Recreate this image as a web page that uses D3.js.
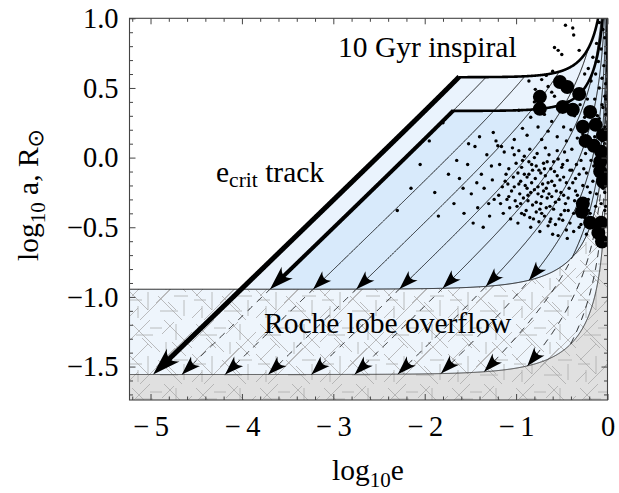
<!DOCTYPE html>
<html>
<head>
<meta charset="utf-8">
<script src="https://cdn.jsdelivr.net/npm/d3@7"></script>
<style>
  body { margin: 0; background: #fff; }
  text { font-family: "Liberation Serif", "Times New Roman", serif; fill: #000; }
</style>
</head>
<body>
<svg id="chart" width="619" height="493"></svg>
<script>
// axis ticks
var xTicks = [-5, -4, -3, -2, -1, 0];
var yTicks = [-1.5, -1.0, -0.5, 0.0, 0.5, 1.0];

// tracks: log a = c + slope*log e - log(1-e)
var trackSlope = 0.635;
var trackIntercepts = [1.40, 1.10, 0.80, 0.50, 0.20, -0.10, -0.40, -0.70, -1.00, -1.30];
var critIntercepts = [1.60, 1.40];      // outer / inner e_crit track
var inspiralLevels = [0.577, 0.335];    // 10 Gyr inspiral curves, log a at e=0
var rocheLevels = [-0.945, -1.557];     // Roche lobe overflow boundaries, log a at e=0

// observed systems, small dots [log e, log a]
var smallDots = [
  [-0.46,0.95],[-0.38,0.93],[-0.37,0.88],[-0.58,0.79],[-0.54,0.77],[-0.50,0.74],[-0.31,0.77],
  [-0.09,0.97],[-0.05,0.92],[-0.03,0.86],[-0.12,0.82],[-0.07,0.78],[-0.02,0.75],[-0.16,0.72],[-0.10,0.69],
  [-0.04,0.66],[-0.21,0.64],[-0.13,0.60],[-0.06,0.57],[-0.02,0.53],[-0.25,0.60],[-0.18,0.55],[-0.09,0.50],
  [-0.03,0.44],[-0.14,0.42],[-0.06,0.38],[-0.02,0.31],[-0.11,0.30],[-0.01,0.20],[-0.03,0.10],[-0.02,0.00],
  [-0.01,-0.12],[-0.03,-0.25],[-0.02,-0.35],
  [-1.18,-0.05],[-1.15,-0.21],[-1.13,0.04],[-1.17,-0.33],[-1.11,-0.12],[-1.19,-0.27],[-1.14,-0.40],[-1.12,-0.17],[-1.16,0.08],[-1.10,-0.30],
  [-1.08,-0.08],[-1.05,-0.24],[-1.02,0.02],[-1.07,-0.36],[-1.03,-0.14],[-1.09,-0.19],[-1.01,-0.31],[-1.06,-0.44],[-1.04,0.07],[-1.00,-0.04],[-1.08,-0.28],[-1.02,-0.21],
  [-0.98,-0.11],[-0.96,-0.26],[-0.93,-0.02],[-0.99,-0.35],[-0.95,-0.17],[-0.91,-0.41],[-0.97,0.05],[-0.92,-0.29],[-0.94,-0.07],[-0.90,-0.20],[-0.98,-0.47],[-0.95,-0.33],[-0.91,0.01],
  [-0.88,-0.14],[-0.86,-0.03],[-0.84,-0.25],[-0.89,-0.38],[-0.82,-0.09],[-0.87,-0.31],[-0.83,-0.18],[-0.85,0.06],[-0.81,-0.44],[-0.88,-0.22],[-0.84,-0.50],[-0.86,-0.12],[-0.82,-0.34],[-0.80,0.00],
  [-0.78,-0.06],[-0.76,-0.21],[-0.74,-0.37],[-0.79,-0.15],[-0.72,-0.28],[-0.77,0.03],[-0.73,-0.11],[-0.75,-0.46],[-0.71,-0.19],[-0.78,-0.32],[-0.74,-0.53],[-0.70,-0.04],[-0.76,-0.26],[-0.72,-0.40],
  [-0.68,-0.13],[-0.66,-0.29],[-0.64,0.02],[-0.69,-0.42],[-0.62,-0.08],[-0.67,-0.22],[-0.63,-0.35],[-0.65,-0.49],[-0.61,-0.17],[-0.68,0.07],[-0.64,-0.26],[-0.60,-0.55],[-0.66,-0.03],[-0.62,-0.44],
  [-0.58,-0.10],[-0.56,-0.24],[-0.54,-0.01],[-0.59,-0.37],[-0.52,-0.16],[-0.57,-0.48],[-0.53,-0.30],[-0.55,0.05],[-0.51,-0.41],[-0.58,-0.20],[-0.54,-0.56],[-0.50,-0.07],
  [-0.48,-0.14],[-0.46,-0.33],[-0.44,-0.02],[-0.49,-0.45],[-0.42,-0.22],[-0.47,0.04],[-0.43,-0.38],[-0.45,-0.52],[-0.41,-0.09],[-0.48,-0.27],[-0.44,-0.58],
  [-0.97,-0.19],[-0.94,-0.40],[-0.91,-0.12],[-0.87,-0.27],[-0.85,-0.43],[-0.83,-0.05],[-0.80,-0.23],[-0.78,-0.39],[-0.75,-0.09],[-0.73,-0.33],
  [-0.70,-0.24],[-0.69,-0.08],[-0.67,-0.36],[-0.65,-0.18],[-0.63,-0.46],[-0.61,-0.28],[-0.59,-0.03],[-0.57,-0.32],[-0.55,-0.13],[-0.53,-0.44],
  [-0.51,-0.25],[-0.49,-0.05],[-0.47,-0.38],[-0.45,-0.18],[-0.43,-0.29],[-0.41,-0.47],[-0.39,-0.09],[-0.37,-0.40],[-0.35,-0.15],[-0.33,-0.27],
  [-0.31,-0.50],[-0.29,-0.02],[-0.27,-0.20],[-0.25,-0.43],[-0.23,-0.11],[-0.21,-0.38],[-0.19,-0.25],[-0.17,-0.48],[-0.15,-0.06],[-0.13,-0.35],
  [-0.38,-0.18],[-0.36,-0.31],[-0.34,-0.05],[-0.39,0.06],[-0.32,-0.42],[-0.37,-0.53],[-0.33,0.14],[-0.35,-0.24],[-0.31,-0.12],[-0.30,0.22],
  [-0.28,-0.36],[-0.26,-0.08],[-0.24,0.03],[-0.29,-0.48],[-0.22,-0.21],[-0.27,0.17],[-0.23,-0.55],[-0.25,0.29],[-0.21,-0.30],[-0.20,0.10],
  [-0.18,-0.02],[-0.16,-0.17],[-0.14,0.15],[-0.19,-0.40],[-0.12,-0.26],[-0.17,0.33],[-0.13,-0.50],[-0.15,0.24],[-0.11,0.05],[-0.10,-0.12],
  [-0.09,0.28],[-0.07,-0.33],[-0.06,0.12],[-0.08,-0.45],[-0.05,0.36],[-0.04,-0.05],[-0.03,0.22],[-0.05,-0.22],[-0.02,0.42],[-0.03,-0.38],
  [-0.36,0.30],[-0.30,0.38],[-0.22,0.42],[-0.40,0.20],[-0.35,0.44],
  [-1.68,-0.33],[-1.62,-0.15],[-1.57,-0.40],[-1.53,-0.05],[-1.49,-0.26],[-1.45,0.08],[-1.42,-0.36],[-1.38,-0.12],[-1.35,-0.22],[-1.32,0.02],
  [-1.29,-0.42],[-1.26,-0.16],[-1.24,-0.30],[-1.22,0.12],[-1.58,-0.22],[-1.47,-0.47],[-1.36,-0.50],[-1.27,-0.06],[-1.40,0.15],[-1.30,-0.33],
  [-1.65,-0.02],[-1.52,0.10],[-1.43,-0.18],[-1.25,0.18],
  [-1.02,0.13],[-0.97,0.34],[-0.93,0.21],[-0.88,0.16],[-0.84,0.29],[-0.80,0.40],[-0.76,0.22],[-0.72,0.13],
  [-0.69,0.31],[-0.65,0.19],[-0.61,0.26],[-0.58,0.44],[-0.55,0.15],[-0.52,0.33],[-0.48,0.22],[-0.45,0.12],[-0.43,0.40],
  [-0.79,0.49],[-0.65,0.51],[-0.61,0.47],[-0.67,0.59],[-0.60,0.62],[-0.86,0.55],[-0.72,0.56],[-0.53,0.56],
  [-1.74,-0.12],[-1.89,-0.25],[-2.05,-0.05],[-1.95,0.12],[-2.30,-0.38],[-1.80,0.25],[-1.85,-0.42],[-2.15,-0.22],[-1.20,0.085]
];

// observed systems, large circles [log e, log a]
var bigDots = [
  [-0.52,0.543],[-0.44,0.507],[-0.31,0.457],[-0.74,0.436],[-0.74,0.350],[-0.49,0.364],[-0.38,0.343],[-0.19,0.328],
  [-0.27,0.221],[-0.13,0.235],[-0.05,0.163],[-0.24,0.120],[-0.15,0.085],[-0.07,0.042],[-0.08,-0.030],[-0.08,-0.100],
  [-0.05,-0.172],[-0.27,-0.330],[-0.28,-0.388],[-0.19,-0.467],[-0.07,-0.467],[-0.10,-0.539],[-0.06,-0.603]
];

var svg = d3.select("#chart");
var x = d3.scaleLinear().domain([-5.23, 0]).range([129.5, 607.5]);
var y = d3.scaleLinear().domain([-1.74, 1.0]).range([400, 18.3]);
var x0 = x.range()[0], x1 = x.range()[1], yTop = y.range()[1], yBot = y.range()[0];

function ecc(v) { return Math.pow(10, v); }
function inspiral(v, y0) { var e = ecc(v); return y0 - Math.log10(1 - e * e); }
function roche(v, y0) { return y0 - Math.log10(1 - ecc(v)); }
function track(v, c) { return c + trackSlope * v - Math.log10(1 - ecc(v)); }
function clampY(v) { return Math.max(-1.9, Math.min(1.2, v)); }

// sample positions, denser close to e = 1
var xs = d3.range(-5.23, -0.3, 0.004);
d3.range(0.302, 4.6, 0.004).forEach(function(t) { xs.push(Math.log10(1 - Math.pow(10, -t))); });

var defs = svg.append("defs");
defs.append("clipPath").attr("id", "plotclip").append("rect")
  .attr("x", x0).attr("y", yTop).attr("width", x1 - x0).attr("height", yBot - yTop);

// crossed-stroke texture for the Roche region
var pat = defs.append("pattern").attr("id", "hatch")
  .attr("patternUnits", "userSpaceOnUse").attr("width", 64).attr("height", 64);
var hatchPaths = ["M0,22L22,0", "M12,64L64,12", "M28,47L47,28", "M0,62L10,52", "M34,14L46,2", "M4,40L20,24",
  "M4,4L32,32", "M36,0L64,28", "M0,34L20,54", "M30,40L54,64", "M44,22L58,36", "M14,18L24,28", "M40,46L48,54",
  "M8,15H25", "M32,55H50", "M2,44H14", "M46,40H60", "M22,8H34",
  "M48,4V20", "M20,36V54", "M56,44V60", "M10,50V62", "M38,22V34"];
pat.selectAll("path").data(hatchPaths).enter().append("path")
  .attr("d", function(d) { return d; })
  .attr("stroke", "#a8a8a8").attr("stroke-width", 1).attr("stroke-opacity", 0.75).attr("fill", "none");

var plot = svg.append("g").attr("clip-path", "url(#plotclip)");

var area = d3.area()
  .x(function(d) { return x(d.x); })
  .y0(function(d) { return y(d.lo); })
  .y1(function(d) { return y(d.hi); });

function band(loFn, hiFn) {
  return xs.map(function(v) {
    var lo = clampY(loFn(v)), hi = clampY(hiFn(v));
    return {x: v, lo: lo, hi: Math.max(lo, hi)};
  });
}

// gray: below lower Roche boundary
plot.append("path").attr("fill", "#e0e0e0")
  .attr("d", area(band(function() { return -1.9; }, function(v) { return roche(v, rocheLevels[1]); })));
// Roche lobe overflow band
plot.append("path").attr("fill", "#eef5fc")
  .attr("d", area(band(function(v) { return roche(v, rocheLevels[1]); }, function(v) { return roche(v, rocheLevels[0]); })));
// texture over both
plot.append("path").attr("fill", "url(#hatch)")
  .attr("d", area(band(function() { return -1.9; }, function(v) { return roche(v, rocheLevels[0]); })));
// regions under the outer and inner e_crit / inspiral boundaries
var regionFill = ["#eaf3fd", "#d8eafb"];
critIntercepts.forEach(function(c, i) {
  plot.append("path").attr("fill", regionFill[i])
    .attr("d", area(band(function(v) { return roche(v, rocheLevels[0]); },
      function(v) { return Math.min(track(v, c), inspiral(v, inspiralLevels[i])); })));
});

var line = d3.line().x(function(d) { return x(d.x); }).y(function(d) { return y(d.y); })
  .defined(function(d) { return d.ok; });

// Roche boundary curves
rocheLevels.forEach(function(r, i) {
  plot.append("path").attr("fill", "none").attr("stroke", i ? "#333" : "#000").attr("stroke-width", 1)
    .attr("d", line(xs.map(function(v) { var yy = roche(v, r); return {x: v, y: yy, ok: yy < 1.2}; })));
});

function arrowHead(px, py, ang, L, Wd) {
  plot.append("path")
    .attr("d", "M0,0L" + (-L) + "," + (-Wd / 2) + "Q" + (-0.62 * L) + ",0 " + (-L) + "," + (Wd / 2) + "Z")
    .attr("transform", "translate(" + px + "," + py + ") rotate(" + ang + ")")
    .attr("fill", "#000");
}
function trackArrow(c, level, L, Wd) {
  var xa = (level - c) / trackSlope;   // where the track meets a Roche curve
  var xb = xa + 0.03;
  var ang = Math.atan2(y(track(xa, c)) - y(track(xb, c)), x(xa) - x(xb)) * 180 / Math.PI;
  arrowHead(x(xa), y(track(xa, c)), ang, L, Wd);
}

// thin evolutionary tracks
trackIntercepts.forEach(function(c) {
  var pts = xs.map(function(v) {
    var t = track(v, c);
    return {x: v, y: t, top: t <= inspiral(v, inspiralLevels[0]) && t < 1.2,
      up: t >= roche(v, rocheLevels[0]), low: t >= roche(v, rocheLevels[1])};
  });
  plot.append("path").attr("fill", "none").attr("stroke", "#000").attr("stroke-width", 0.9)
    .attr("d", line(pts.map(function(p) { return {x: p.x, y: p.y, ok: p.top && p.up}; })));
  plot.append("path").attr("fill", "none").attr("stroke", "#000").attr("stroke-width", 0.9)
    .attr("stroke-dasharray", "7,6")
    .attr("d", line(pts.map(function(p) { return {x: p.x, y: p.y, ok: p.top && !p.up && p.low}; })));
  rocheLevels.forEach(function(r, k) {
    var xa = (r - c) / trackSlope;
    var inner = c === critIntercepts[1] && k === 0;  // drawn with the thick track
    if (xa < -0.6 && !inner) trackArrow(c, r, 19, 13);
  });
});

// e_crit tracks (thick) and 10 Gyr inspiral curves
var critEnd = [rocheLevels[1], rocheLevels[0]];
var critWidth = [5, 4], headL = [28, 24], headW = [18, 16];
critIntercepts.forEach(function(c, i) {
  var xStart = (critEnd[i] - c) / trackSlope + 0.12;
  plot.append("path").attr("fill", "none").attr("stroke", "#000").attr("stroke-width", critWidth[i])
    .attr("d", line(xs.map(function(v) {
      var t = track(v, c);
      return {x: v, y: t, ok: v >= xStart && t <= inspiral(v, inspiralLevels[i]) + 0.004};
    })));
  plot.append("path").attr("fill", "none").attr("stroke", "#000").attr("stroke-width", 2.6)
    .attr("d", line(xs.map(function(v) {
      var s = inspiral(v, inspiralLevels[i]);
      return {x: v, y: s, ok: s <= track(v, c) && s < 1.2};
    })));
  trackArrow(c, critEnd[i], headL[i], headW[i]);
});

// observed systems
plot.append("g").selectAll("circle").data(smallDots).enter().append("circle")
  .attr("cx", function(d) { return x(d[0]); })
  .attr("cy", function(d) { return y(d[1]); })
  .attr("r", 1.7).attr("fill", "#000");
plot.append("g").selectAll("circle").data(bigDots).enter().append("circle")
  .attr("cx", function(d) { return x(d[0]); })
  .attr("cy", function(d) { return y(d[1]); })
  .attr("r", 7).attr("fill", "#000");

// frame and ticks
svg.append("rect").attr("x", x0).attr("y", yTop).attr("width", x1 - x0).attr("height", yBot - yTop)
  .attr("fill", "none").attr("stroke", "#444").attr("stroke-width", 1.1);

function fmtMinus(s) { return s.replace("-", "\u2212\u2009"); }
var xMinor = d3.range(-5.2, 0.01, 0.2).filter(function(v) { return Math.abs(v - Math.round(v)) > 0.01; });
var yMinor = d3.range(-1.7, 1.01, 0.1).filter(function(v) { return Math.abs(v * 2 - Math.round(v * 2)) > 0.01; });

function styleAxis(g) {
  g.select(".domain").remove();
  g.selectAll(".tick line").attr("stroke", "#444");
  g.selectAll("text").style("font-size", "28.5px").style("font-family", "Liberation Serif, serif");
}

svg.append("g").attr("transform", "translate(0," + yBot + ")")
  .call(d3.axisBottom(x).tickValues(xTicks).tickSize(-6).tickPadding(16)
    .tickFormat(function(d) { return fmtMinus(String(d)); }))
  .call(styleAxis);
svg.append("g").attr("transform", "translate(0," + yBot + ")")
  .call(d3.axisBottom(x).tickValues(xMinor).tickSize(-3.5).tickFormat(""))
  .call(styleAxis);
svg.append("g").attr("transform", "translate(0," + yTop + ")")
  .call(d3.axisTop(x).tickValues(xTicks).tickSize(-6).tickFormat(""))
  .call(styleAxis);
svg.append("g").attr("transform", "translate(0," + yTop + ")")
  .call(d3.axisTop(x).tickValues(xMinor).tickSize(-3.5).tickFormat(""))
  .call(styleAxis);
svg.append("g").attr("transform", "translate(" + x0 + ",0)")
  .call(d3.axisLeft(y).tickValues(yTicks).tickSize(-6).tickPadding(11)
    .tickFormat(function(d) { return fmtMinus(d3.format(".1f")(d)); }))
  .call(styleAxis);
svg.append("g").attr("transform", "translate(" + x0 + ",0)")
  .call(d3.axisLeft(y).tickValues(yMinor).tickSize(-3.5).tickFormat(""))
  .call(styleAxis);
svg.append("g").attr("transform", "translate(" + x1 + ",0)")
  .call(d3.axisRight(y).tickValues(yTicks).tickSize(-6).tickFormat(""))
  .call(styleAxis);
svg.append("g").attr("transform", "translate(" + x1 + ",0)")
  .call(d3.axisRight(y).tickValues(yMinor).tickSize(-3.5).tickFormat(""))
  .call(styleAxis);

// labels
var lab = svg.append("g").style("font-size", "29.5px");
lab.append("text").attr("x", 338).attr("y", 56.5).text("10 Gyr inspiral");
lab.append("text").attr("x", 264).attr("y", 333).text("Roche lobe overflow");
var ec = lab.append("text").attr("x", 216).attr("y", 181.5);
ec.append("tspan").text("e");
ec.append("tspan").attr("dy", 5).style("font-size", "21.5px").text("crit");
ec.append("tspan").attr("dy", -5).text(" track");

var xt = svg.append("text").attr("x", 368).attr("y", 480).attr("text-anchor", "middle").style("font-size", "29.5px");
xt.append("tspan").text("log");
xt.append("tspan").attr("dy", 7).style("font-size", "21px").text("10");
xt.append("tspan").attr("dy", -7).text("e");

var yt = svg.append("text").attr("transform", "translate(38,195) rotate(-90)")
  .attr("text-anchor", "middle").style("font-size", "29.5px");
yt.append("tspan").text("log");
yt.append("tspan").attr("dy", 7).style("font-size", "21px").text("10");
yt.append("tspan").attr("dy", -7).text(" a, R");
yt.append("tspan").attr("dy", 5).style("font-size", "22px").style("font-family", "DejaVu Sans").text("\u2299");
</script>
</body>
</html>
